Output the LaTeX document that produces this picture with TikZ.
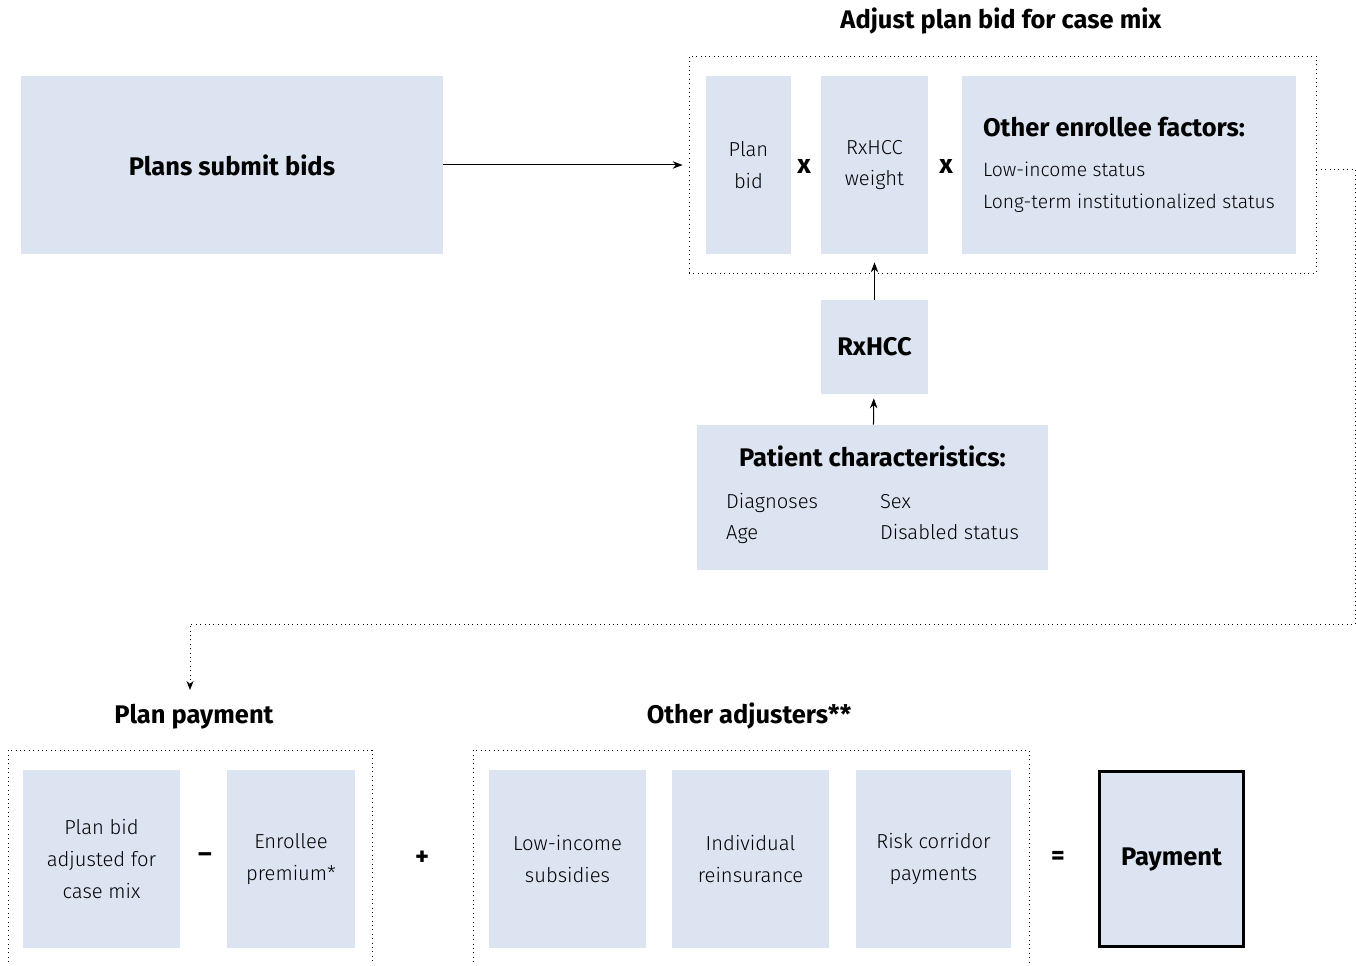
\documentclass[tikz,border=0pt]{standalone}
\usepackage{fontspec}
\setmainfont{Fira Sans}[UprightFont=* Light, BoldFont=* Bold]
\usepackage{tikz}
\usetikzlibrary{positioning,arrows.meta}
\definecolor{pastelgris}{RGB}{221,228,241}
\tikzset{caja/.style={fill=pastelgris, inner sep=0pt, align=center, font=\fontsize{11.5}{18}\selectfont}}
\tikzset{punteado/.style={dotted, line width=0.5pt}}
\tikzset{flecha/.style={line width=0.2mm, -{Stealth[length=2mm,width=1.5mm]}}}
\tikzset{titulo/.style={font=\fontsize{14.5}{18}\selectfont\bfseries}}
\tikzset{signo/.style={font=\fontsize{15}{18}\selectfont\bfseries}}

\begin{document}
\begin{tikzpicture}[x=0.02cm, y=-0.02cm]
            \useasboundingbox (0,0) rectangle (1356,966);

            % adjust plan bid
            \node[punteado, draw, minimum width=12.54cm, minimum height=4.34cm] (adjust) at (1002.5,164.5) {};
            \node[titulo] (tadjust) at (1001,21) {Adjust plan bid for case mix};
            \node[caja, minimum width=8.44cm, minimum height=3.56cm, font=\fontsize{14.5}{18}\selectfont\bfseries] (bids) at (232,165) {Plans submit bids};
            \node[caja, minimum width=1.7cm, minimum height=3.56cm] (bid) at (748.5,165) {Plan\\bid};
            \node[signo] (x1) at (804,167) {x};
            \node[caja, minimum width=2.14cm, minimum height=3.56cm] (weight) at (874.5,165) {RxHCC\\weight};
            \node[signo] (x2) at (946,167) {x};
            \node[caja, minimum width=6.68cm, minimum height=3.56cm, align=left, font=\fontsize{11}{18.5}\selectfont] (factors) at (1129,165)
                {{\fontsize{14.5}{18}\selectfont\bfseries Other enrollee factors:}\\[4pt]
                 Low-income status\\Long-term institutionalized status};
            \node[caja, minimum width=2.14cm, minimum height=1.88cm, font=\fontsize{14.5}{18}\selectfont\bfseries] (rxhcc) at (874.5,347) {RxHCC};
            \node[caja, minimum width=7.02cm, minimum height=2.9cm] (patient) at (872.5,497.5)
                {{\fontsize{14.5}{18}\selectfont\bfseries Patient characteristics:}\\[10pt]
                 \begin{tabular}{@{}p{3.08cm}@{}l@{}}
                 Diagnoses & Sex\\
                 Age & Disabled status
                 \end{tabular}};

            % plan payment
            \node[titulo] (tplan) at (194,717) {Plan payment};
            \node[titulo] (tother) at (749,716) {Other adjusters**};
            \node[caja, minimum width=3.14cm, minimum height=3.56cm] (adjbid) at (101.5,859) {Plan bid\\adjusted for\\case mix};
            \node[signo] (menos) at (205,858) {--};
            \node[caja, minimum width=2.56cm, minimum height=3.56cm] (premium) at (291,859) {Enrollee\\premium*};
            \node[signo] (mas) at (422,858) {+};
            \node[caja, minimum width=3.14cm, minimum height=3.56cm] (lowinc) at (567.5,859) {Low-income\\subsidies};
            \node[caja, minimum width=3.14cm, minimum height=3.56cm] (reins) at (750.5,859) {Individual\\reinsurance};
            \node[caja, minimum width=3.1cm, minimum height=3.56cm] (corridor) at (933.5,859) {Risk corridor\\payments};
            \node[signo] (igual) at (1058,858) {=};
            \node[caja, draw, line width=0.5mm, minimum width=2.89cm, minimum height=3.51cm, font=\fontsize{14.5}{18}\selectfont\bfseries] (payment) at (1171.5,859) {Payment};

            \draw[punteado] (8,962) |- (372,750) -- (372,962);
            \draw[punteado] (473,962) |- (1029,750) -- (1029,962);
            \coordinate (llegada) at (190,690);

            \draw[flecha, shorten >=1.2mm] (bids.east) -- (bids.east -| adjust.west);
            \draw[flecha, shorten >=1.6mm] (rxhcc) -- (weight);
            \draw[flecha, shorten >=0.8mm] (patient) -- (rxhcc);
            \draw[punteado, -{Stealth[length=1.8mm,width=1.4mm]}] ([yshift=-1mm]adjust.east) -| (1355,624) -| (llegada);
        \end{tikzpicture}
\end{document}
